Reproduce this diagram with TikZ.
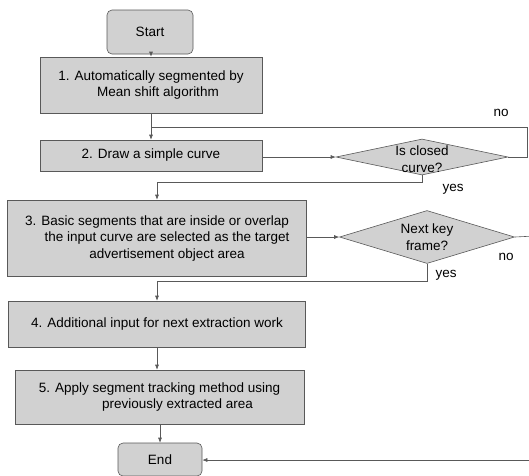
\documentclass[tikz,border=0pt]{standalone}
\usepackage{fontspec}
\setmainfont{Liberation Sans}
\usetikzlibrary{arrows.meta,shapes.geometric}
\tikzset{
  box/.style={draw=black!65, line width=0.6pt, fill=black!18, inner sep=0pt, align=center,
    font=\fontsize{13.5}{16.5}\selectfont},
  term/.style={box, rounded corners=5pt},
  dia/.style={diamond, draw=black!65, line width=0.6pt, fill=black!18, inner sep=0pt},
  txt/.style={inner sep=0pt, align=center, font=\fontsize{13.5}{16.5}\selectfont},
  conn/.style={draw=black!65, line width=0.6pt},
  arr/.style={conn, -{Latex[length=5pt,width=4pt]}},
}
\begin{document}
\begin{tikzpicture}[x=1pt,y=-1pt]
\useasboundingbox (0,0) rectangle (529,475);
\node[term, minimum width=86pt, minimum height=44pt] (start) at (150,32) {Start};
\node[box, minimum width=222pt, minimum height=56pt] (b1) at (151,85)
  {1. Automatically segmented by\\\hspace*{14pt}Mean shift algorithm};
\node[box, minimum width=222pt, minimum height=31pt] (b2) at (151,155.5) {2. Draw a simple curve};
\node[dia, minimum width=172pt, minimum height=36pt] (d1) at (422,157) {};
\node[txt] (d1t) at (422,159) {Is closed\\curve?};
\node[box, minimum width=299pt, minimum height=76pt] (b3) at (157,238)
  {3. Basic segments that are inside or overlap\\\hspace*{20pt}the input curve are selected as the target\\\hspace*{20pt}advertisement object area};
\node[dia, minimum width=175pt, minimum height=53pt] (d2) at (427,237) {};
\node[txt] (d2t) at (427,237) {Next key\\frame?};
\node[box, minimum width=297pt, minimum height=46pt] (b4) at (157,324) {4. Additional input for next extraction work};
\node[box, minimum width=289pt, minimum height=54pt] (b5) at (159.5,397)
  {5. Apply segment tracking method using\\\hspace*{36pt}previously extracted area};
\node[term, minimum width=84pt, minimum height=33pt] (end) at (160,459.5) {End};

\node[txt] (no1) at (501,113) {no};
\node[txt] (yes1) at (453,189) {yes};
\node[txt] (no2) at (506,257) {no};
\node[txt] (yes2) at (446,275) {yes};

\coordinate (j1) at (151,127);
\coordinate (r1) at (527,127);
\coordinate (y1) at (157,182);
\coordinate (y2) at (157,281);
\coordinate (r2) at (535,236);
\coordinate (r3) at (535,460);

\draw[arr] (start.south -| b1.north) -- (b1.north);
\draw[arr] (b1.south) -- (b2.north);
\draw[conn] (d1.east) -| (r1) -- (j1);
\draw[arr] (b2.east |- d1.west) -- (d1.west);
\draw[conn] (d1.south) |- (y1);
\draw[arr] (y1) -- (b3.north);
\draw[arr] (b3.east |- d2.west) -- (d2.west);
\draw[conn] (d2.south) |- (y2);
\draw[arr] (y2) -- (b4.north);
\draw[arr] (b4.south) -- (b4.south |- b5.north);
\draw[arr] (end.north |- b5.south) -- (end.north);
\draw[conn] (d2.east) -- (r2) -- (r3);
\draw[arr] (r3) -- (end.east |- r3);
\end{tikzpicture}
\end{document}
